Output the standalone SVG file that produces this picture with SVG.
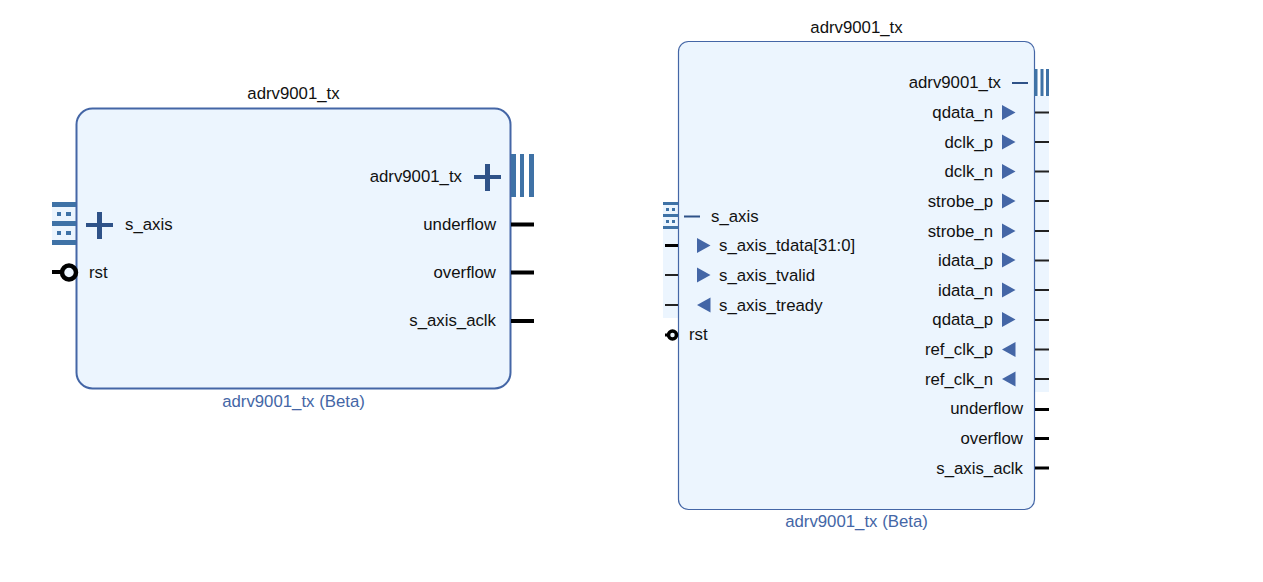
<svg xmlns="http://www.w3.org/2000/svg" width="1263" height="582" viewBox="0 0 1263 582">
<style>
text{font-family:"Liberation Sans",Arial,sans-serif;font-size:16.8px;fill:#111}
.e{text-anchor:end}.m{text-anchor:middle}
.c{fill:#4466a6;text-anchor:middle}
.box{fill:#ecf5fe;stroke:#4466a6}
.bg{fill:#ecf5fe}
.bar{fill:#3f72a6}
.plus{fill:#2f5288}
.tri{fill:#4466a6}
.p3{stroke:#000;stroke-width:3;fill:none}
.p5{stroke:#000;stroke-width:4;fill:none}
.p1{stroke:#222;stroke-width:2;fill:none}
</style>
<defs>
<path id="r" d="M0-7.500L13.500 0L0 7.500Z" class="tri"/>
<path id="l" d="M13.500-7.500L0 0L13.500 7.500Z" class="tri"/>
</defs>
<g id="block-large">
<rect class="bg" x="52" y="202" width="24" height="43"/>
<rect class="box" x="76.500" y="108.500" width="434" height="280" rx="16" stroke-width="2"/>
<text class="m" x="293.500" y="99">adrv9001_tx</text>
<text class="c" x="293.500" y="407">adrv9001_tx (Beta)</text>
<g id="large-s_axis">
<rect class="bar" x="52" y="202" width="24" height="5"/><rect class="bar" x="52" y="221" width="24" height="5"/><rect class="bar" x="52" y="240" width="24" height="5"/>
<rect class="bar" x="57" y="212" width="4" height="4"/><rect class="bar" x="66" y="212" width="5" height="4"/><rect class="bar" x="57" y="231" width="4" height="4"/><rect class="bar" x="66" y="231" width="5" height="4"/>
<rect class="plus" x="86" y="223" width="27" height="4"/><rect class="plus" x="97" y="212" width="5" height="27"/>
<text x="125" y="230">s_axis</text>
</g>
<g id="large-rst">
<path class="p5" d="M52 272H62"/><circle cx="69" cy="272.500" r="7" fill="#ecf5fe" stroke="#000" stroke-width="4.500"/>
<text x="89" y="278">rst</text>
</g>
<g id="large-adrv9001_tx">
<text class="e" x="462" y="182">adrv9001_tx</text>
<rect class="plus" x="474" y="175" width="27" height="4"/><rect class="plus" x="485" y="164" width="5" height="27"/>
<rect class="bar" x="511" y="154" width="5" height="43"/><rect class="bar" x="520" y="154" width="4" height="43"/><rect class="bar" x="529" y="154" width="5" height="43"/>
</g>
<g id="large-outputs">
<text class="e" x="496" y="230">underflow</text><text class="e" x="496" y="278">overflow</text><text class="e" x="496" y="326">s_axis_aclk</text>
</g>
</g>
<g id="block-small">
<rect class="bg" x="663" y="202" width="16" height="116"/>
<rect class="bg" x="1034" y="96" width="15" height="296"/>
<rect class="box" x="678.500" y="41.500" width="356" height="468" rx="10" stroke-width="1.200"/>
<text class="m" x="856.500" y="33">adrv9001_tx</text>
<text class="c" x="856.500" y="527">adrv9001_tx (Beta)</text>
<g id="small-s_axis">
<rect class="bar" x="663" y="202" width="15" height="3"/><rect class="bar" x="663" y="214" width="15" height="3"/><rect class="bar" x="663" y="226" width="15" height="3"/>
<rect class="bar" x="666" y="208" width="3" height="3"/><rect class="bar" x="672" y="208" width="3" height="3"/><rect class="bar" x="666" y="220" width="3" height="3"/><rect class="bar" x="672" y="220" width="3" height="3"/>
<rect class="plus" x="684" y="215.500" width="16" height="2"/>
<text x="711" y="222">s_axis</text>
</g>
<g id="small-left-ports">
<use href="#r" x="697" y="245.500"/><use href="#r" x="697" y="275"/><use href="#l" x="697" y="305"/>
<text x="719" y="251">s_axis_tdata[31:0]</text><text x="719" y="281">s_axis_tvalid</text><text x="719" y="311">s_axis_tready</text>
</g>
<g id="small-rst">
<circle cx="672.500" cy="335" r="4" fill="#ecf5fe" stroke="#000" stroke-width="3.500"/>
<text x="689" y="340">rst</text>
</g>
<g id="small-adrv9001_tx">
<text class="e" x="1001" y="88">adrv9001_tx</text>
<rect class="plus" x="1012" y="82" width="16" height="2"/>
<rect class="bar" x="1034" y="69" width="3.500" height="27"/><rect class="bar" x="1040.500" y="69" width="3" height="27"/><rect class="bar" x="1046" y="69" width="3" height="27"/>
</g>
<g id="small-right-ports">
<use href="#r" x="1002" y="112.500"/><use href="#r" x="1002" y="142"/><use href="#r" x="1002" y="171.500"/><use href="#r" x="1002" y="201"/><use href="#r" x="1002" y="231"/><use href="#r" x="1002" y="260"/><use href="#r" x="1002" y="290"/><use href="#r" x="1002" y="319.500"/><use href="#l" x="1002" y="349.500"/><use href="#l" x="1002" y="379"/>
<text class="e" x="993" y="118">qdata_n</text><text class="e" x="993" y="148">dclk_p</text><text class="e" x="993" y="177">dclk_n</text><text class="e" x="993" y="207">strobe_p</text><text class="e" x="993" y="237">strobe_n</text><text class="e" x="993" y="266">idata_p</text><text class="e" x="993" y="296">idata_n</text><text class="e" x="993" y="325">qdata_p</text><text class="e" x="993" y="355">ref_clk_p</text><text class="e" x="993" y="385">ref_clk_n</text>
<text class="e" x="1023" y="414">underflow</text><text class="e" x="1023" y="444">overflow</text><text class="e" x="1023" y="474">s_axis_aclk</text>
</g>
</g>
<g id="connectors">
<path class="p5" d="M511 224.500H534M511 272.500H534M511 321H534"/>
<path class="p3" d="M665 245.500H678M665 335H669M1035 409.500H1049M1035 438.500H1049M1035 468H1049"/>
<path class="p1" d="M665 275H678M665 305H678M1035 112.500H1049M1035 142H1049M1035 171.500H1049M1035 201H1049M1035 231H1049M1035 260.500H1049M1035 290H1049M1035 320H1049M1035 349.500H1049M1035 379H1049"/>
</g>
</svg>
